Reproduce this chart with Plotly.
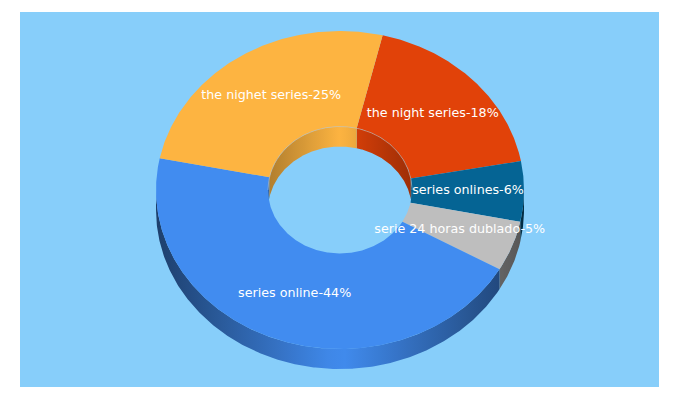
import numpy as np
import plotly.graph_objects as go

categories = ["the night series", "series onlines", "serie 24 horas dublado", "series online", "the nighet series"]
values = [18, 6, 5, 44, 25]
colors = ["#E14209", "#056494", "#BEBEBE", "#418CF0", "#FDB441"]

BG = "#87CEFA"
START = 13.4  # degrees clockwise from top
CX, CY = 340, 190
RX, RY = 184, 159
HOLE_RX, HOLE_RY = 72, 63.5
DEPTH = 20


def shade(color, f):
    r, g, b = [int(color[i:i + 2], 16) for i in (1, 3, 5)]
    return f"rgb({r * f:.0f},{g * f:.0f},{b * f:.0f})"


def gradient(color, x, strength, radius):
    # colour along x, brightest at the middle of the pie
    lo, hi = min(x), max(x)
    scale = []
    for p in np.linspace(0, 1, 21):
        u = abs(lo + p * (hi - lo) - CX) / radius
        scale.append([float(p), shade(color, 1 - strength * u)])
    return dict(type="horizontal", colorscale=scale)


def polygon(x, y, fill_color=None, fillgradient=None):
    kw = dict(fillcolor=fill_color) if fill_color else dict(fillgradient=fillgradient)
    return go.Scatter(x=x, y=y, mode="lines", fill="toself", line=dict(width=0),
                      hoverinfo="skip", showlegend=False, **kw)


def arc(a0, a1):
    return np.radians(np.linspace(a0, a1, max(int(abs(a1 - a0) * 2), 2)))


fig = go.Figure()

spans = np.array(values) / sum(values) * 360
starts = START + np.concatenate([[0], np.cumsum(spans)[:-1]])

# outer wall, front half of the ring
for a0, span, color in zip(starts, spans, colors):
    t = arc(max(a0, 90), min(a0 + span, 270))
    if a0 + span <= 90 or a0 >= 270:
        continue
    x = CX + RX * np.sin(t)
    y = CY - RY * np.cos(t)
    fig.add_trace(polygon(np.r_[x, x[::-1], x[0]], np.r_[y, y[::-1] + DEPTH, y[0]],
                          fillgradient=gradient(color, x, 0.55, RX)))

# top face
for a0, span, color in zip(starts, spans, colors):
    t = arc(a0, a0 + span)
    x = np.r_[CX + RX * np.sin(t), CX + HOLE_RX * np.sin(t[::-1])]
    y = np.r_[CY - RY * np.cos(t), CY - HOLE_RY * np.cos(t[::-1])]
    fig.add_trace(polygon(np.r_[x, x[0]], np.r_[y, y[0]], fill_color=color))

# inner wall, back half of the hole
for a0, span, color in zip(starts, spans, colors):
    for lo, hi in ((a0, a0 + span), (a0 - 360, a0 + span - 360)):
        lo, hi = max(lo, -90), min(hi, 90)
        if hi <= lo:
            continue
        t = arc(lo, hi)
        x = CX + HOLE_RX * np.sin(t)
        top = CY - HOLE_RY * np.cos(t)
        bottom = np.minimum(top + DEPTH, CY + HOLE_RY * np.cos(t))
        fig.add_trace(polygon(np.r_[x, x[::-1], x[0]], np.r_[top, bottom[::-1], top[0]],
                              fillgradient=gradient(color, x, 0.3, HOLE_RX)))

# faint edge along the rim of the hole
t = arc(-90, 90)
fig.add_trace(go.Scatter(x=CX + HOLE_RX * np.sin(t), y=CY - HOLE_RY * np.cos(t), mode="lines",
                         line=dict(width=1, color="rgba(200,200,200,0.5)"),
                         hoverinfo="skip", showlegend=False))

# labels sit half way across the ring
mid = np.radians(starts + spans / 2)
fig.add_trace(go.Scatter(
    x=CX + (RX + HOLE_RX) / 2 * np.sin(mid),
    y=CY - (RY + HOLE_RY) / 2 * np.cos(mid),
    mode="text",
    text=[f"{c}-{v}%" for c, v in zip(categories, values)],
    textposition="middle center",
    textfont=dict(family="DejaVu Sans", size=12.7, color="white"),
    hoverinfo="skip",
    showlegend=False,
))

# page body adds 8px around the figure
fig.update_layout(
    width=664, height=384,
    margin=dict(l=12, r=13, t=4, b=5),
    paper_bgcolor="white",
    plot_bgcolor=BG,
    xaxis=dict(range=[20, 659], visible=False),
    yaxis=dict(range=[387, 12], visible=False),
)

fig.write_html("out.html")
